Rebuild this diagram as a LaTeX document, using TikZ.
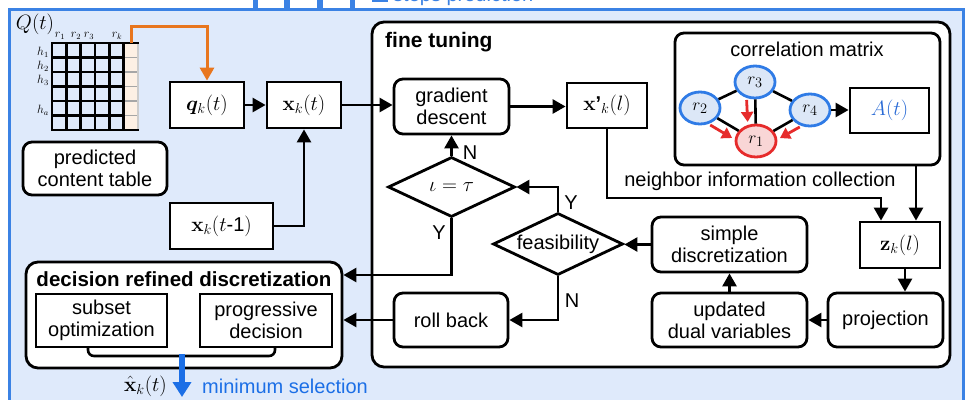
\documentclass[tikz,border=0pt]{standalone}
\usepackage{bm}
\usepackage[no-math]{fontspec}
\setmainfont{Liberation Sans}
\usetikzlibrary{shapes.geometric,arrows.meta,calc}
\definecolor{bglight}{HTML}{DFEAFB}
\definecolor{frameblue}{HTML}{3B82E4}
\definecolor{orng}{HTML}{E8761E}
\definecolor{peach}{HTML}{FDF0E4}
\definecolor{nblue}{HTML}{2F7BE6}
\definecolor{nfill}{HTML}{DCE7F7}
\definecolor{rred}{HTML}{E62B2B}
\definecolor{rfill}{HTML}{F9D6D6}
\definecolor{selblue}{HTML}{1C6FE6}
\definecolor{atblue}{HTML}{2A6BD6}
\begin{document}
\begin{tikzpicture}[x=1pt,y=-1pt,
 every node/.style={font=\fontsize{20}{22}\selectfont},
 box/.style={draw, line width=2.8pt, fill=white, inner sep=0pt, align=center},
 rbox/.style={box, rounded corners=9pt},
 dia/.style={draw, diamond, line width=2.8pt, fill=white, inner sep=0pt, shape aspect=2.1},
 conn/.style={line width=2.6pt},
 arr/.style={conn, -{Triangle[length=13pt,width=14pt]}},
 rnode/.style={ellipse, draw=nblue, fill=nfill, line width=2.8pt, minimum width=40pt, minimum height=32pt, inner sep=0pt, font=\fontsize{19}{19}\selectfont},
 redarr/.style={draw=rred, line width=2.8pt, -{Triangle[length=10pt,width=12pt]}, shorten <=2pt, shorten >=3pt},
 lbl/.style={font=\fontsize{12}{12}\selectfont, inner sep=0pt},
 ]
\useasboundingbox (0,0) rectangle (966,399);
\clip (0,0) rectangle (966,399);
\fill[white] (0,0) rectangle (966,399);
\draw[frameblue, line width=3pt, fill=bglight] (9,9.5) rectangle (963,420);
% top partial legend
\foreach \a/\b in {253/258,284/290,317/323,350/355} \fill[frameblue] (\a,0) rectangle (\b,10);
\draw[frameblue, line width=2pt] (372,0.5) -- (388,0.5);
\node[anchor=base west, text=frameblue, inner sep=0pt] (sp) at (393,1) {steps prediction};

% content table matrix
\node[font=\fontsize{21}{21}\selectfont, inner sep=0pt] (Q) at (35,24) {$Q(t)$};
\fill[peach] (123.67,43) rectangle (138,130);
\foreach \y in {57.5,72,86.5,101,115.5} \draw[gray!70, line width=1.5pt] (123.67,\y) -- (138,\y);
\draw[line width=1.2pt, gray!40] (138,43) -- (138,130);
\foreach \x in {52,66.33,80.67,95,109.33,123.67} \draw[line width=2.6pt, line cap=rect] (\x,43) -- (\x,130);
\foreach \y in {57.5,72,86.5,101,115.5} \draw[line width=2.6pt, line cap=rect] (52,\y) -- (123.67,\y);
\draw[line width=2.6pt, line cap=rect] (52,43) -- (138,43) (52,130) -- (138,130);
\node[lbl] (c1) at (60,36) {$r_1$};
\node[lbl] (c2) at (76,36) {$r_2$};
\node[lbl] (c3) at (89,36) {$r_3$};
\node[lbl] (ck) at (117,36) {$r_k$};
\node[lbl] (h1) at (43,52) {$h_1$};
\node[lbl] (h2) at (43,66) {$h_2$};
\node[lbl] (h3) at (43,80) {$h_3$};
\node[lbl] (ha) at (43,110) {$h_a$};
\coordinate (qtop) at (131,43);
\coordinate (ocorner) at (131,26);

% left column
\node[box, minimum width=74pt, minimum height=46pt] (qk) at (207,105) {$\bm{q}_k(t)$};
\node[box, minimum width=74pt, minimum height=46pt] (xk) at (304,105) {$\mathbf{x}_k(t)$};
\node[rbox, minimum width=144pt, minimum height=53pt] (pct) at (95,168.5) {predicted\\content table};
\node[box, minimum width=103pt, minimum height=46pt] (xkm) at (221.5,226) {$\mathbf{x}_k(t$-1$)$};

% decision refined discretization
\node[rbox, rounded corners=12pt, minimum width=316pt, minimum height=106pt] (drd) at (184,315) {};
\node[anchor=base, inner sep=0pt, font=\bfseries\fontsize{20.5}{22}\selectfont] (drdt) at (184,286) {decision refined discretization};
\draw[conn, rounded corners=6pt] (88,345) -- (88,356) -- (275,356) -- (275,345);
\node[box, minimum width=131pt, minimum height=53pt] (so) at (101.5,320.5) {subset\\optimization};
\node[box, minimum width=132pt, minimum height=53pt] (pd) at (266,320.5) {progressive\\decision};
\coordinate (msel) at (182,354);
\coordinate (mend) at (182,397);
\draw[selblue, line width=5.5pt, -{Triangle[length=15pt,width=18pt]}] (msel) -- (mend);
\node[inner sep=0pt, anchor=east] (xhat) at (167,386) {$\hat{\mathbf{x}}_k(t)$};
\node[text=selblue, anchor=west, inner sep=0pt] (minsel) at (202,386) {minimum selection};

% fine tuning
\node[rbox, rounded corners=12pt, minimum width=578pt, minimum height=345pt] (ft) at (661,194.5) {};
\node[anchor=base west, inner sep=0pt, font=\bfseries\fontsize{21}{22}\selectfont] (ftt) at (385,47) {fine tuning};
\node[rbox, minimum width=115pt, minimum height=55pt] (gd) at (451.5,106.5) {gradient\\descent};
\node[box, minimum width=80pt, minimum height=45pt] (xp) at (607,105.5) {$\mathbf{x}$\textbf{'}$_k(l)$};
\node[rbox, minimum width=265pt, minimum height=132pt] (cm) at (807.5,99) {};
\node[inner sep=0pt] (cmt) at (807,49) {correlation matrix};
\node[box, minimum width=79pt, minimum height=45pt] (At) at (889.5,110.5) {\color{atblue}$A(t)$};
\node[box, minimum width=80pt, minimum height=46pt] (zk) at (900,245) {$\mathbf{z}_k(l)$};
\node[rbox, minimum width=115pt, minimum height=54pt] (proj) at (885.5,320) {projection};
\node[rbox, minimum width=155pt, minimum height=54pt] (udv) at (729.5,320) {updated\\dual variables};
\node[rbox, minimum width=155pt, minimum height=55pt] (sd) at (729.5,244.5) {simple\\discretization};
\node[dia, minimum width=130pt, minimum height=62pt] (feas) at (558,244) {feasibility};
\node[dia, minimum width=127pt, minimum height=60pt] (iot) at (451.5,187) {$\iota = \tau$};
\node[rbox, minimum width=114pt, minimum height=54pt] (rb) at (451,320) {roll back};
\node[inner sep=0pt] (nic) at (760,181) {neighbor information collection};

% correlation graph
\node[rnode] (r3) at (755,82) {$r_3$};
\node[rnode] (r2) at (700,108) {$r_2$};
\node[rnode] (r4) at (810,110) {$r_4$};
\node[rnode, draw=rred, fill=rfill] (r1) at (756,141) {$r_1$};
\draw[conn] (r2) -- (r3);
\draw[conn] (r3) -- (r4);
\draw[conn] (r3) -- (r1);
\draw[conn] (r2) -- (r1);
\draw[conn] (r4) -- (r1);
\draw[redarr] (r3.-118) -- (r1.117);
\draw[redarr] (r2.-62) -- (r1.176);
\draw[redarr] (r4.-118) -- (r1.4);
\draw[arr] (r4.east) -- (r4.east -| At.west);

% connectors
\draw[orng, line width=3pt, -{Triangle[length=13pt,width=14pt]}] (qtop) -- (ocorner) -| (qk.north);
\draw[arr] (qk.east) -- (xk.west);
\draw[arr] (xk.east) -- (xk.east -| gd.west);
\draw[arr] (xkm.east) -| (xk.south);
\draw[arr] (gd.east) -- (gd.east -| xp.west);
\coordinate (nc) at (881,198);
\coordinate (zkr) at (916,0);
\coordinate (zks) at (905,0);
\draw[arr] (xp.south) |- (nc) -- (nc |- zk.north);
\draw[arr] (cm.south -| zkr) -- (zk.north -| zkr);
\draw[arr] (zk.south -| zks) -- (proj.north -| zks);
\draw[arr] (proj.west) -- (udv.east);
\draw[arr] (udv.north) -- (sd.south);
\draw[arr] (sd.west) -- (sd.west -| feas.east);
\draw[arr] (feas.north) |- (iot.east);
\draw[arr] (feas.south) |- (rb.east);
\draw[arr] (iot.north) -- (gd.south);
\draw[arr] (iot.south) |- ([yshift=40pt]drd.east);
\draw[arr] (rb.west) -- (rb.west -| drd.east);
\node[inner sep=0pt] (lN1) at (470,153) {N};
\node[inner sep=0pt] (lY1) at (439,233) {Y};
\node[inner sep=0pt] (lY2) at (571,203) {Y};
\node[inner sep=0pt] (lN2) at (572,301) {N};
\end{tikzpicture}
\end{document}
